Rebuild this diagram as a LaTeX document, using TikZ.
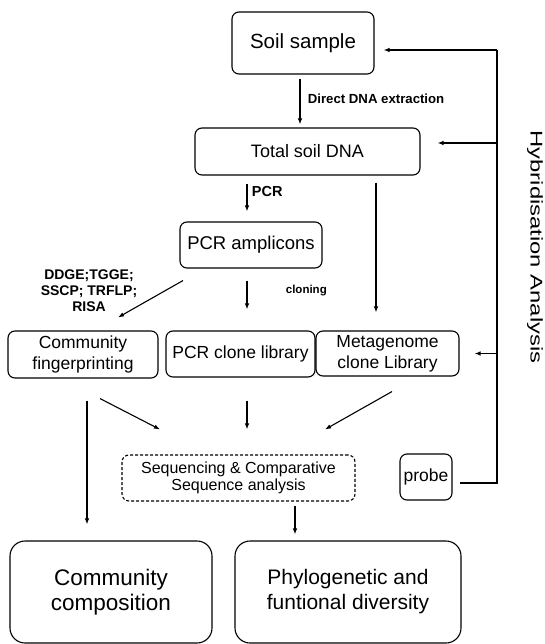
\documentclass[tikz,border=0pt]{standalone}
\usepackage{fontspec}
\setmainfont{Liberation Sans}
\usetikzlibrary{arrows.meta}
\begin{document}
\begin{tikzpicture}[x=1pt, y=-1pt,
        B/.style={draw, line width=1.1pt, rounded corners=7pt, align=center, inner sep=0pt},
        F/.style 2 args={font=\fontsize{#1}{#2}\selectfont},
        L/.style={font=\fontsize{#1}{16}\selectfont\bfseries, align=center},
        L/.default=13.2,
        arr/.style={-{Latex[length=6pt,width=4.5pt]}, line width=1.1pt}
      ]
      \useasboundingbox (0,0) rectangle (544,644);
      % boxes
      \node [B, F={20.5}{24}, minimum width=142pt, minimum height=62pt] (soil) at (303,43) {Soil sample};
      \node [B, F={18}{21}, minimum width=225pt, minimum height=47pt] (total) at (307.5,151.5) {Total soil DNA};
      \node [B, F={18.5}{21}, minimum width=142pt, minimum height=46pt] (amp) at (251,245) {PCR amplicons};
      \node [B, F={17.5}{21}, minimum width=150pt, minimum height=47pt] (finger) at (83,354.5) {Community\\fingerprinting};
      \node [B, F={17.5}{21}, minimum width=149pt, minimum height=46pt] (clone) at (240.5,354) {PCR clone library};
      \node [B, F={17.5}{21}, minimum width=143pt, minimum height=45pt] (meta) at (387.5,353.5) {Metagenome\\clone Library};
      \node [B, F={16}{16.5}, densely dashed, minimum width=233pt, minimum height=46pt] (seq) at (238.5,478) {Sequencing \& Comparative\\Sequence analysis};
      \node [B, F={17.5}{21}, minimum width=52pt, minimum height=46pt] (probe) at (426,477) {probe};
      \node [B, F={22.5}{25}, rounded corners=15pt, minimum width=202pt, minimum height=102pt] (comp) at (111,592) {Community\\composition};
      \node [B, F={21}{25}, rounded corners=15pt, minimum width=226pt, minimum height=102pt] (phylo) at (348,592) {Phylogenetic and\\funtional diversity};
      % labels
      \node [L=14] (techs) at (89,291) {DDGE;TGGE;\\SSCP; TRFLP;\\RISA};
      \node [rotate=-90, F={17}{20}] (hyb) at (535,247) {\scalebox{1.4}[1]{Hybridisation Analysis}};
      % arrows
      \draw [arr] ([shift={(-3,4)}]soil.south) -- ([shift={(-3,-3)}]soil.south |- total.north)
          node [L, right, pos=0.45, xshift=4pt] {Direct DNA extraction};
      \draw [arr] ([shift={(-4,8)}]amp.north |- total.south) -- ([shift={(-4,-10)}]amp.north)
          node [L=14.5, right, pos=0.3, xshift=1pt] {PCR};
      \draw [arr] ([shift={(-11.5,7)}]meta.north |- total.south) -- ([shift={(-11.5,-18)}]meta.north);
      \draw [arr] ([shift={(-68,12)}]amp.south) -- ([shift={(35,-13)}]finger.north);
      \draw [arr] ([shift={(-4,12)}]amp.south) -- ([shift={(-4,-21)}]amp.south |- clone.north)
          node [L=11.5, right, pos=0.35, xshift=35pt] {cloning};
      \draw [arr] ([shift={(17,20)}]finger.south) -- ([shift={(-78.5,-25)}]seq.north);
      \draw [arr] ([shift={(6.5,23)}]clone.south) -- ([shift={(6.5,-25)}]clone.south |- seq.north);
      \draw [arr] ([shift={(4.5,15)}]meta.south) -- ([shift={(86.5,-25)}]seq.north);
      \draw [arr] ([shift={(4,22)}]finger.south) -- ([shift={(4,-16)}]finger.south |- comp.north);
      \draw [arr] ([shift={(56.5,4)}]seq.south) -- ([shift={(56.5,-6)}]seq.south |- phylo.north);
      % hybridisation loop
      \coordinate (bus) at (497,50);
      \draw [line width=1.1pt] ([shift={(7,6)}]probe.east) -| (bus);
      \draw [arr] (bus) -- ([shift={(9,0)}]soil.east |- bus);
      \draw [arr] ([shift={(0,-8.5)}]bus |- total.east) -- ([shift={(17,-8.5)}]total.east);
      \draw [arr] (bus |- meta.east) -- ([shift={(15,0)}]meta.east);
    \end{tikzpicture}
\end{document}
